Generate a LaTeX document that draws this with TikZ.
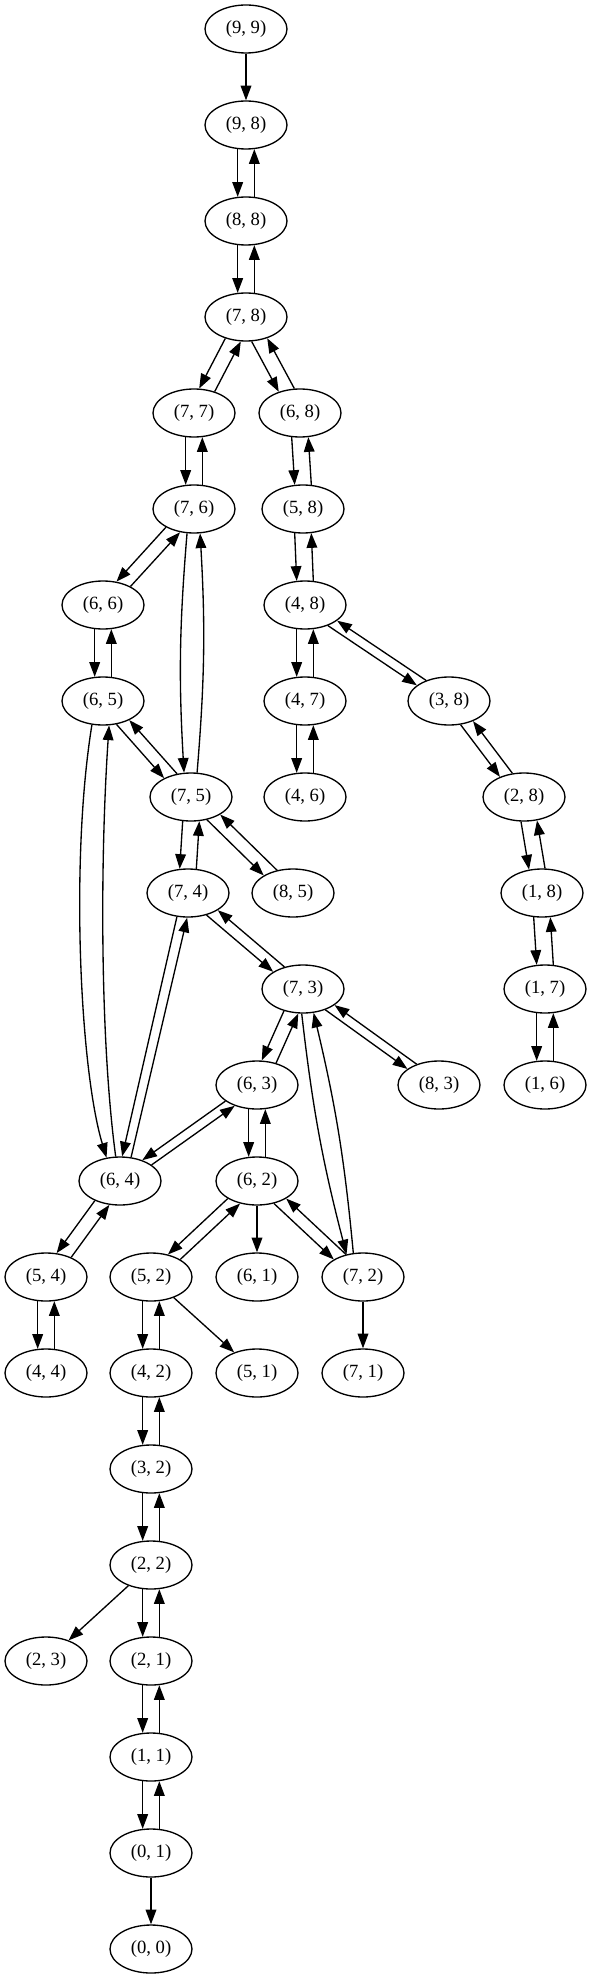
\documentclass[tikz,border=0pt]{standalone}
\usepackage{fontspec}
\setmainfont{Liberation Serif}
\usetikzlibrary{arrows.meta,shapes.geometric}
\newcommand\vpair[2]{\draw[e] (#1.-109) -- (#2.109); \draw[e] (#2.71) -- (#1.-71);}
\newcommand\gpair[6]{\draw[e] (#1.#3) -- (#2.#4); \draw[e] (#2.#5) -- (#1.#6);}
\begin{document}
\begin{tikzpicture}[x=0.75pt,y=-0.75pt,
  st/.style={draw, ellipse, line width=1pt, minimum width=61.5pt, minimum height=36pt, inner sep=0pt, font=\fontsize{14}{16}\selectfont},
  e/.style={line width=1pt, -{Triangle[length=11pt,width=8pt]}}]
\useasboundingbox (0,0) rectangle (589,1979);
\node[st] (n99) at (246,29) {(9, 9)};
\node[st] (n98) at (246,125) {(9, 8)};
\node[st] (n88) at (246,221) {(8, 8)};
\node[st] (n78) at (246,317) {(7, 8)};
\node[st] (n77) at (194,413) {(7, 7)};
\node[st] (n68) at (300,413) {(6, 8)};
\node[st] (n76) at (194,509) {(7, 6)};
\node[st] (n58) at (303,509) {(5, 8)};
\node[st] (n66) at (103,605) {(6, 6)};
\node[st] (n48) at (305,605) {(4, 8)};
\node[st] (n65) at (103,701) {(6, 5)};
\node[st] (n47) at (305,701) {(4, 7)};
\node[st] (n38) at (449,701) {(3, 8)};
\node[st] (n75) at (191,797) {(7, 5)};
\node[st] (n46) at (305,797) {(4, 6)};
\node[st] (n28) at (524,797) {(2, 8)};
\node[st] (n74) at (188,893) {(7, 4)};
\node[st] (n85) at (293,893) {(8, 5)};
\node[st] (n18) at (542,893) {(1, 8)};
\node[st] (n73) at (303,989) {(7, 3)};
\node[st] (n17) at (545,989) {(1, 7)};
\node[st] (n63) at (257,1085) {(6, 3)};
\node[st] (n83) at (439,1085) {(8, 3)};
\node[st] (n16) at (545,1085) {(1, 6)};
\node[st] (n64) at (120,1181) {(6, 4)};
\node[st] (n62) at (257,1181) {(6, 2)};
\node[st] (n54) at (46,1277) {(5, 4)};
\node[st] (n52) at (151,1277) {(5, 2)};
\node[st] (n61) at (257,1277) {(6, 1)};
\node[st] (n72) at (363,1277) {(7, 2)};
\node[st] (n44) at (46,1373) {(4, 4)};
\node[st] (n42) at (151,1373) {(4, 2)};
\node[st] (n51) at (257,1373) {(5, 1)};
\node[st] (n71) at (363,1373) {(7, 1)};
\node[st] (n32) at (151,1469) {(3, 2)};
\node[st] (n22) at (151,1565) {(2, 2)};
\node[st] (n23) at (46,1661) {(2, 3)};
\node[st] (n21) at (151,1661) {(2, 1)};
\node[st] (n11) at (151,1757) {(1, 1)};
\node[st] (n01) at (151,1853) {(0, 1)};
\node[st] (n00) at (151,1949) {(0, 0)};

\draw[e] (n99) -- (n98);
\vpair{n98}{n88}
\vpair{n88}{n78}
\gpair{n78}{n77}{-134}{78}{46}{-102}
\gpair{n78}{n68}{-77}{135}{103}{-45}
\vpair{n77}{n76}
\vpair{n68}{n58}
\gpair{n76}{n66}{-147}{60}{34}{-121}
\draw[e] (n76.-106) to[bend right=4] (n75.106);
\draw[e] (n75.76) to[bend right=4] (n76.-76);
\vpair{n58}{n48}
\vpair{n66}{n65}
\vpair{n48}{n47}
\gpair{n48}{n38}{-42}{154}{138}{-26}
\gpair{n65}{n75}{-60}{145}{121}{-36}
\draw[e] (n65.-115) .. controls (70,860) and (80,1070) .. (n64.120);
\draw[e] (n64.100) .. controls (100,1040) and (100,860) .. (n65.-76);
\vpair{n47}{n46}
\gpair{n38}{n28}{-64}{140}{116}{-40}
\vpair{n75}{n74}
\gpair{n75}{n85}{-55}{149}{125}{-31}
\gpair{n28}{n18}{-97}{119}{83}{-61}
\gpair{n74}{n73}{-50}{150}{130}{-30}
\gpair{n74}{n64}{-115}{85}{65}{-92}
\vpair{n18}{n17}
\gpair{n73}{n63}{-131}{79}{49}{-101}
\gpair{n73}{n83}{-43}{153}{137}{-27}
\draw[e] (n73.-93) to[bend right=4] (n72.126);
\draw[e] (n72.112) to[bend right=4] (n73.-66);
\vpair{n17}{n16}
\gpair{n63}{n64}{-153}{43}{27}{-137}
\vpair{n63}{n62}
\gpair{n64}{n54}{-142}{66}{38}{-114}
\gpair{n62}{n52}{-149}{53}{31}{-127}
\draw[e] (n62) -- (n61);
\gpair{n62}{n72}{-53}{149}{127}{-31}
\vpair{n54}{n44}
\vpair{n52}{n42}
\draw[e] (n52) -- (n51);
\draw[e] (n72) -- (n71);
\vpair{n42}{n32}
\vpair{n32}{n22}
\draw[e] (n22) -- (n23);
\vpair{n22}{n21}
\vpair{n21}{n11}
\vpair{n11}{n01}
\draw[e] (n01) -- (n00);
\end{tikzpicture}
\end{document}
